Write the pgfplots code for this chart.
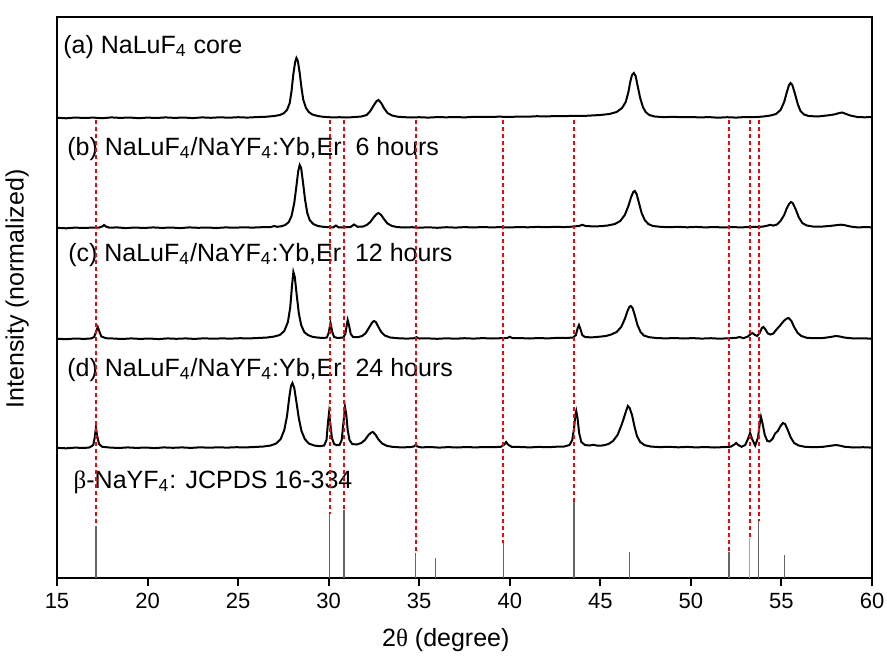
\documentclass[border=0pt]{standalone}
\usepackage{fontspec}
\setmainfont{Liberation Sans}
\newfontfamily\symfont{Liberation Serif}
\usepackage{pgfplots}
\usepackage{pgfplotstable}
\pgfplotsset{compat=1.18}
\tikzset{
  lbl/.style={anchor=base west, inner sep=0pt, font=\fontsize{12.5}{15}\selectfont},
  guide/.style={red, line width=1pt, dash pattern=on 2pt off 1.5pt},
}

\pgfplotstableread[header=false]{
15.0 0.3
15.5 -0.3
16.0 0.5
16.5 0.0
17.0 0.4
17.5 -0.2
18.0 0.6
18.5 0.1
19.0 0.5
19.5 -0.2
20.0 0.4
20.5 0.0
21.0 0.6
21.5 0.1
22.0 0.5
22.5 -0.1
23.0 0.6
23.5 0.2
24.0 0.7
24.5 0.3
25.0 0.8
25.5 0.4
26.0 0.9
26.5 1.2
27.0 2.0
27.3 3.0
27.5 4.5
27.7 8
27.85 15
27.95 27
28.05 44
28.15 56
28.22 60
28.3 57
28.4 45
28.5 30
28.6 18
28.75 10
28.9 6
29.1 3.5
29.4 2
29.7 1.2
30.0 0.8
30.3 0.6
30.6 0.8
31.0 0.5
31.4 0.9
31.8 1.5
32.1 3
32.3 7
32.5 13
32.65 17
32.75 18
32.9 15
33.05 10
33.25 5
33.5 2.5
33.8 1.3
34.2 0.8
34.6 0.5
35.0 0.8
35.5 0.4
36.0 0.9
36.5 0.7
37.0 1.0
37.5 0.6
38.0 1.2
38.5 1.0
39.0 1.2
39.5 1.3
40.0 1.0
40.5 1.5
41.0 1.3
41.5 1.8
42.0 1.5
42.5 2.0
43.0 1.8
43.5 2.2
44.0 2.0
44.5 2.5
45.0 3.0
45.5 4
45.9 6
46.2 10
46.4 16
46.55 26
46.65 36
46.75 43
46.85 45
46.95 42
47.05 33
47.2 20
47.35 11
47.5 6
47.7 3
48.0 1.5
48.5 0.8
49.0 1.2
49.5 0.8
50.0 1.0
50.5 0.6
51.0 0.9
51.5 0.3
52.0 0.8
52.5 0.4
53.0 1.0
53.5 0.8
54.0 1.5
54.4 2.5
54.7 4
54.95 8
55.15 16
55.3 26
55.42 33
55.5 35
55.6 33
55.75 24
55.9 14
56.05 7
56.25 3.5
56.5 2
57.0 1.5
57.5 2.5
57.9 3.5
58.2 5
58.35 5.5
58.5 4.5
58.8 2.5
59.2 1
59.6 0.7
60.0 1.0
}\core

\pgfplotstableread[header=false]{
15.0 0.2
15.5 -0.3
16.0 0.4
16.5 0.0
17.0 0.5
17.3 0.3
17.5 1.5
17.6 3
17.7 1.5
17.9 0.3
18.3 0.6
18.8 -0.1
19.3 0.5
19.8 0.0
20.3 0.6
20.8 0.1
21.3 0.5
21.8 -0.1
22.3 0.6
22.8 0.2
23.3 0.5
23.8 0.0
24.3 0.6
24.8 0.3
25.3 0.7
25.8 0.4
26.3 0.8
26.8 1.0
27.0 2.0
27.15 1.2
27.4 1.8
27.6 3
27.8 6
27.95 12
28.1 25
28.22 42
28.32 57
28.4 63
28.48 60
28.58 46
28.7 28
28.82 15
28.95 8
29.15 4
29.4 2
29.7 1.2
30.0 0.8
30.25 0.6
30.4 2.5
30.55 0.6
30.9 0.8
31.2 0.9
31.4 3.5
31.6 1.2
31.9 1.5
32.1 3
32.3 6
32.5 11
32.65 14
32.75 15
32.9 13
33.05 9
33.25 4.5
33.5 2
33.8 0.9
34.2 0.5
34.6 0.8
35.0 0.3
35.5 0.7
36.0 0.2
36.5 0.8
37.0 0.4
37.5 0.9
38.0 0.5
38.5 1.0
39.0 0.6
39.5 0.9
40.0 0.5
40.5 1.0
41.0 0.7
41.5 1.1
42.0 0.8
42.5 1.2
43.0 0.9
43.5 1.4
43.85 2.2
44.0 3.2
44.2 2.0
44.6 1.6
45.0 1.8
45.4 2.5
45.8 4
46.1 7
46.35 13
46.55 22
46.7 31
46.82 36
46.9 37
47.0 34
47.12 26
47.28 15
47.45 8
47.65 4
47.9 2
48.3 1.2
48.8 0.8
49.3 1.2
49.8 0.7
50.3 1.1
50.8 0.6
51.3 1.0
51.8 0.5
52.3 0.9
52.8 0.6
53.3 1.2
53.7 1.0
54.0 1.5
54.25 2.5
54.4 3.2
54.55 2.4
54.75 3.5
54.95 7
55.15 13
55.3 20
55.42 24
55.52 26
55.62 25
55.78 19
55.95 11
56.15 5
56.4 2.5
56.8 1.3
57.3 1.5
57.8 2.3
58.1 3
58.3 3.3
58.5 2.8
58.8 1.5
59.2 0.6
59.6 0.9
60.0 0.7
}\sixh

\pgfplotstableread[header=false]{
15.0 0.3
15.5 -0.2
16.0 0.5
16.5 0.1
16.9 0.6
17.05 2
17.15 7
17.25 12
17.35 7
17.45 2.5
17.7 0.8
18.1 0.5
18.6 0.0
19.1 0.6
19.6 0.1
20.1 0.5
20.6 -0.1
21.1 0.6
21.6 0.2
22.1 0.6
22.6 0.1
23.1 0.7
23.6 0.3
24.1 0.6
24.6 0.4
25.1 0.8
25.6 0.6
26.1 1.0
26.6 1.5
27.0 2.5
27.3 4
27.55 8
27.75 17
27.88 32
27.97 52
28.05 67
28.13 62
28.23 45
28.35 26
28.48 14
28.65 7
28.85 4
29.1 2.2
29.4 1.4
29.7 1.0
29.9 1.5
30.0 6
30.1 16
30.2 7
30.3 2
30.5 1.0
30.8 1.5
30.92 5
31.0 14
31.05 19
31.12 14
31.22 5
31.35 2
31.6 1.8
31.85 3
32.05 6
32.25 12
32.4 16.5
32.5 18
32.6 17
32.75 12
32.9 7
33.1 3.5
33.4 1.5
33.8 0.8
34.3 0.4
34.7 0.7
34.85 1.8
35.0 0.5
35.5 0.6
36.0 0.2
36.5 0.7
37.0 0.3
37.5 0.8
38.0 0.4
38.5 0.9
39.0 0.5
39.5 0.8
39.85 1.0
40.0 2.2
40.15 0.9
40.6 0.9
41.1 0.5
41.6 1.0
42.1 0.6
42.6 1.1
43.1 1.0
43.5 1.5
43.65 4
43.75 11
43.82 14
43.9 10
44.0 4
44.15 2
44.5 1.6
44.9 2.2
45.3 3
45.6 4.5
45.9 7
46.15 12
46.35 20
46.5 28
46.6 32
46.68 33
46.78 31
46.9 24
47.05 14
47.22 7
47.4 3.5
47.7 1.8
48.1 1.0
48.6 0.6
49.1 1.0
49.6 0.5
50.1 0.9
50.6 0.4
51.1 0.8
51.6 0.3
52.1 0.8
52.5 1.2
52.7 2
52.9 0.8
53.15 2.5
53.3 5
53.4 6
53.5 4.5
53.65 3
53.8 6
53.92 11
54.0 12
54.1 10
54.25 5.5
54.4 4.5
54.55 5.5
54.75 10
54.95 14
55.15 18.5
55.3 20.5
55.4 21
55.55 18
55.7 12
55.9 6
56.1 3
56.4 1.2
56.8 0.8
57.3 1.0
57.7 2
58.0 3
58.2 2.6
58.5 1.4
59.0 0.5
59.5 0.7
60.0 0.3
}\twelveh

\pgfplotstableread[header=false]{
15.0 0.2
15.5 -0.3
16.0 0.4
16.5 0.0
16.8 0.6
17.0 3
17.08 10
17.15 20
17.22 12
17.32 4
17.5 1.2
17.9 0.5
18.4 0.0
18.9 0.6
19.4 0.1
19.9 0.5
20.4 -0.1
20.9 0.6
21.4 0.2
21.9 0.6
22.4 0.1
22.9 0.7
23.4 0.3
23.9 0.7
24.4 0.4
24.9 0.8
25.4 0.6
25.9 1.0
26.4 1.5
26.8 2.5
27.1 4.5
27.35 9
27.55 18
27.7 32
27.82 50
27.92 62
28.0 65
28.1 60
28.22 46
28.35 30
28.5 17
28.68 9
28.9 4.5
29.2 2.5
29.5 1.8
29.75 2.5
29.88 8
29.96 25
30.02 35
30.08 26
30.18 10
30.3 4
30.45 2.8
30.6 3
30.72 8
30.82 26
30.9 41
30.97 34
31.05 18
31.15 8
31.3 4
31.55 3.5
31.8 5
32.0 8
32.2 13
32.35 15.5
32.45 16
32.6 13
32.75 8.5
32.95 4.5
33.2 2.2
33.5 1.2
34.0 0.6
34.5 0.9
34.7 1.5
34.8 3
34.9 1.5
35.1 0.6
35.6 1.0
36.1 0.4
36.6 0.9
37.1 0.5
37.6 1.0
38.1 0.6
38.6 1.0
39.1 0.8
39.5 1.2
39.7 3.5
39.8 6
39.9 3.5
40.1 1.2
40.6 1.0
41.1 0.6
41.6 1.1
42.1 0.8
42.6 1.3
43.0 1.5
43.3 3
43.45 8
43.55 20
43.62 33
43.67 37
43.74 30
43.83 15
43.95 6
44.15 3
44.4 2.5
44.6 3.2
44.8 2.5
45.0 2.3
45.2 2.8
45.45 4
45.7 7
45.95 13
46.15 22
46.3 30
46.42 37
46.52 42
46.62 40
46.75 33
46.88 22
47.02 12
47.2 6
47.45 2.8
47.8 1.4
48.3 0.9
48.8 1.2
49.3 0.7
49.8 1.1
50.3 0.6
50.8 1.0
51.3 0.5
51.8 0.9
52.2 1.3
52.4 3.5
52.5 5
52.62 3
52.8 1.2
53.0 3
53.15 9
53.27 15
53.38 9
53.55 2.5
53.7 10
53.8 24
53.87 31
53.95 25
54.08 13
54.22 7
54.35 6.5
54.5 9
54.65 14.5
54.8 17
54.95 22
55.08 25
55.2 24
55.35 18
55.5 11
55.7 5
55.95 2.5
56.3 1.2
56.8 0.8
57.3 1.2
57.7 2.2
58.0 3
58.2 2.5
58.5 1.2
59.0 0.5
59.5 0.8
60.0 0.4
}\twentyfourh

\begin{document}
\begin{tikzpicture}
\useasboundingbox (-28.5pt,-38.5pt) rectangle (415pt,289pt);
\begin{axis}[
    scale only axis,
    width=407.5pt, height=280.5pt,
    xmin=15, xmax=60, ymin=0, ymax=561,
    xtick={15,20,...,60}, ytick=\empty,
    xtick pos=lower, tick align=outside,
    major tick length=4pt,
    axis line style={line width=1pt},
    every tick/.style={black, line width=1pt},
    tick label style={font=\fontsize{11}{13}\selectfont},
    /pgf/number format/assume math mode=true,
    label style={font=\fontsize{12.5}{15}\selectfont},
    xlabel={2{\symfont θ} (degree)},
    ylabel={Intensity (normalized)},
    xlabel style={at={(axis description cs:0.477,0)}, anchor=base, yshift=-34pt},
    ylabel style={at={(axis description cs:-0.026,0.515)}, anchor=south},
]
\addplot[black, line width=1pt] table[x index=0, y expr=\thisrowno{1}+460] {\core};
\addplot[black, line width=1pt] table[x index=0, y expr=\thisrowno{1}+350] {\sixh};
\addplot[black, line width=1pt] table[x index=0, y expr=\thisrowno{1}+239] {\twelveh};
\addplot[black, line width=1pt] table[x index=0, y expr=\thisrowno{1}+130] {\twentyfourh};

% JCPDS 16-334 reference sticks
\addplot[ycomb, no markers, color=black!60, line width=0.6pt] coordinates {
(17.15,52) (30.05,64) (30.85,68) (34.8,25) (35.9,20) (39.65,35)
(43.55,76) (46.6,26) (52.1,26) (53.75,57) (55.15,23)};
\addplot[ycomb, no markers, color=black!35, line width=0.6pt] coordinates {(53.25,40)};

\node[lbl] at (axis cs:15.33,525) {(a) NaLuF\textsubscript{4} core};
\node[lbl] at (axis cs:15.55,423) {(b) NaLuF\textsubscript{4}/NaYF\textsubscript{4}:Yb,Er\ \ 6 hours};
\node[lbl] at (axis cs:15.6,317) {(c) NaLuF\textsubscript{4}/NaYF\textsubscript{4}:Yb,Er\ \ 12 hours};
\node[lbl] at (axis cs:15.55,202) {(d) NaLuF\textsubscript{4}/NaYF\textsubscript{4}:Yb,Er\ \ 24 hours};
\node[lbl] at (axis cs:15.9,90) {{\symfont β}-NaYF\textsubscript{4}: JCPDS 16-334};

% guide lines to the reference peaks
\addplot[guide] coordinates {(17.15,458) (17.15,52)};
\addplot[guide] coordinates {(30.05,458) (30.05,64)};
\addplot[guide] coordinates {(30.85,458) (30.85,68)};
\addplot[guide] coordinates {(34.8,458) (34.8,25)};
\addplot[guide] coordinates {(39.65,458) (39.65,35)};
\addplot[guide] coordinates {(43.55,458) (43.55,76)};
\addplot[guide] coordinates {(52.1,458) (52.1,26)};
\addplot[guide] coordinates {(53.25,458) (53.25,40)};
\addplot[guide] coordinates {(53.75,458) (53.75,57)};
\end{axis}
\end{tikzpicture}
\end{document}
